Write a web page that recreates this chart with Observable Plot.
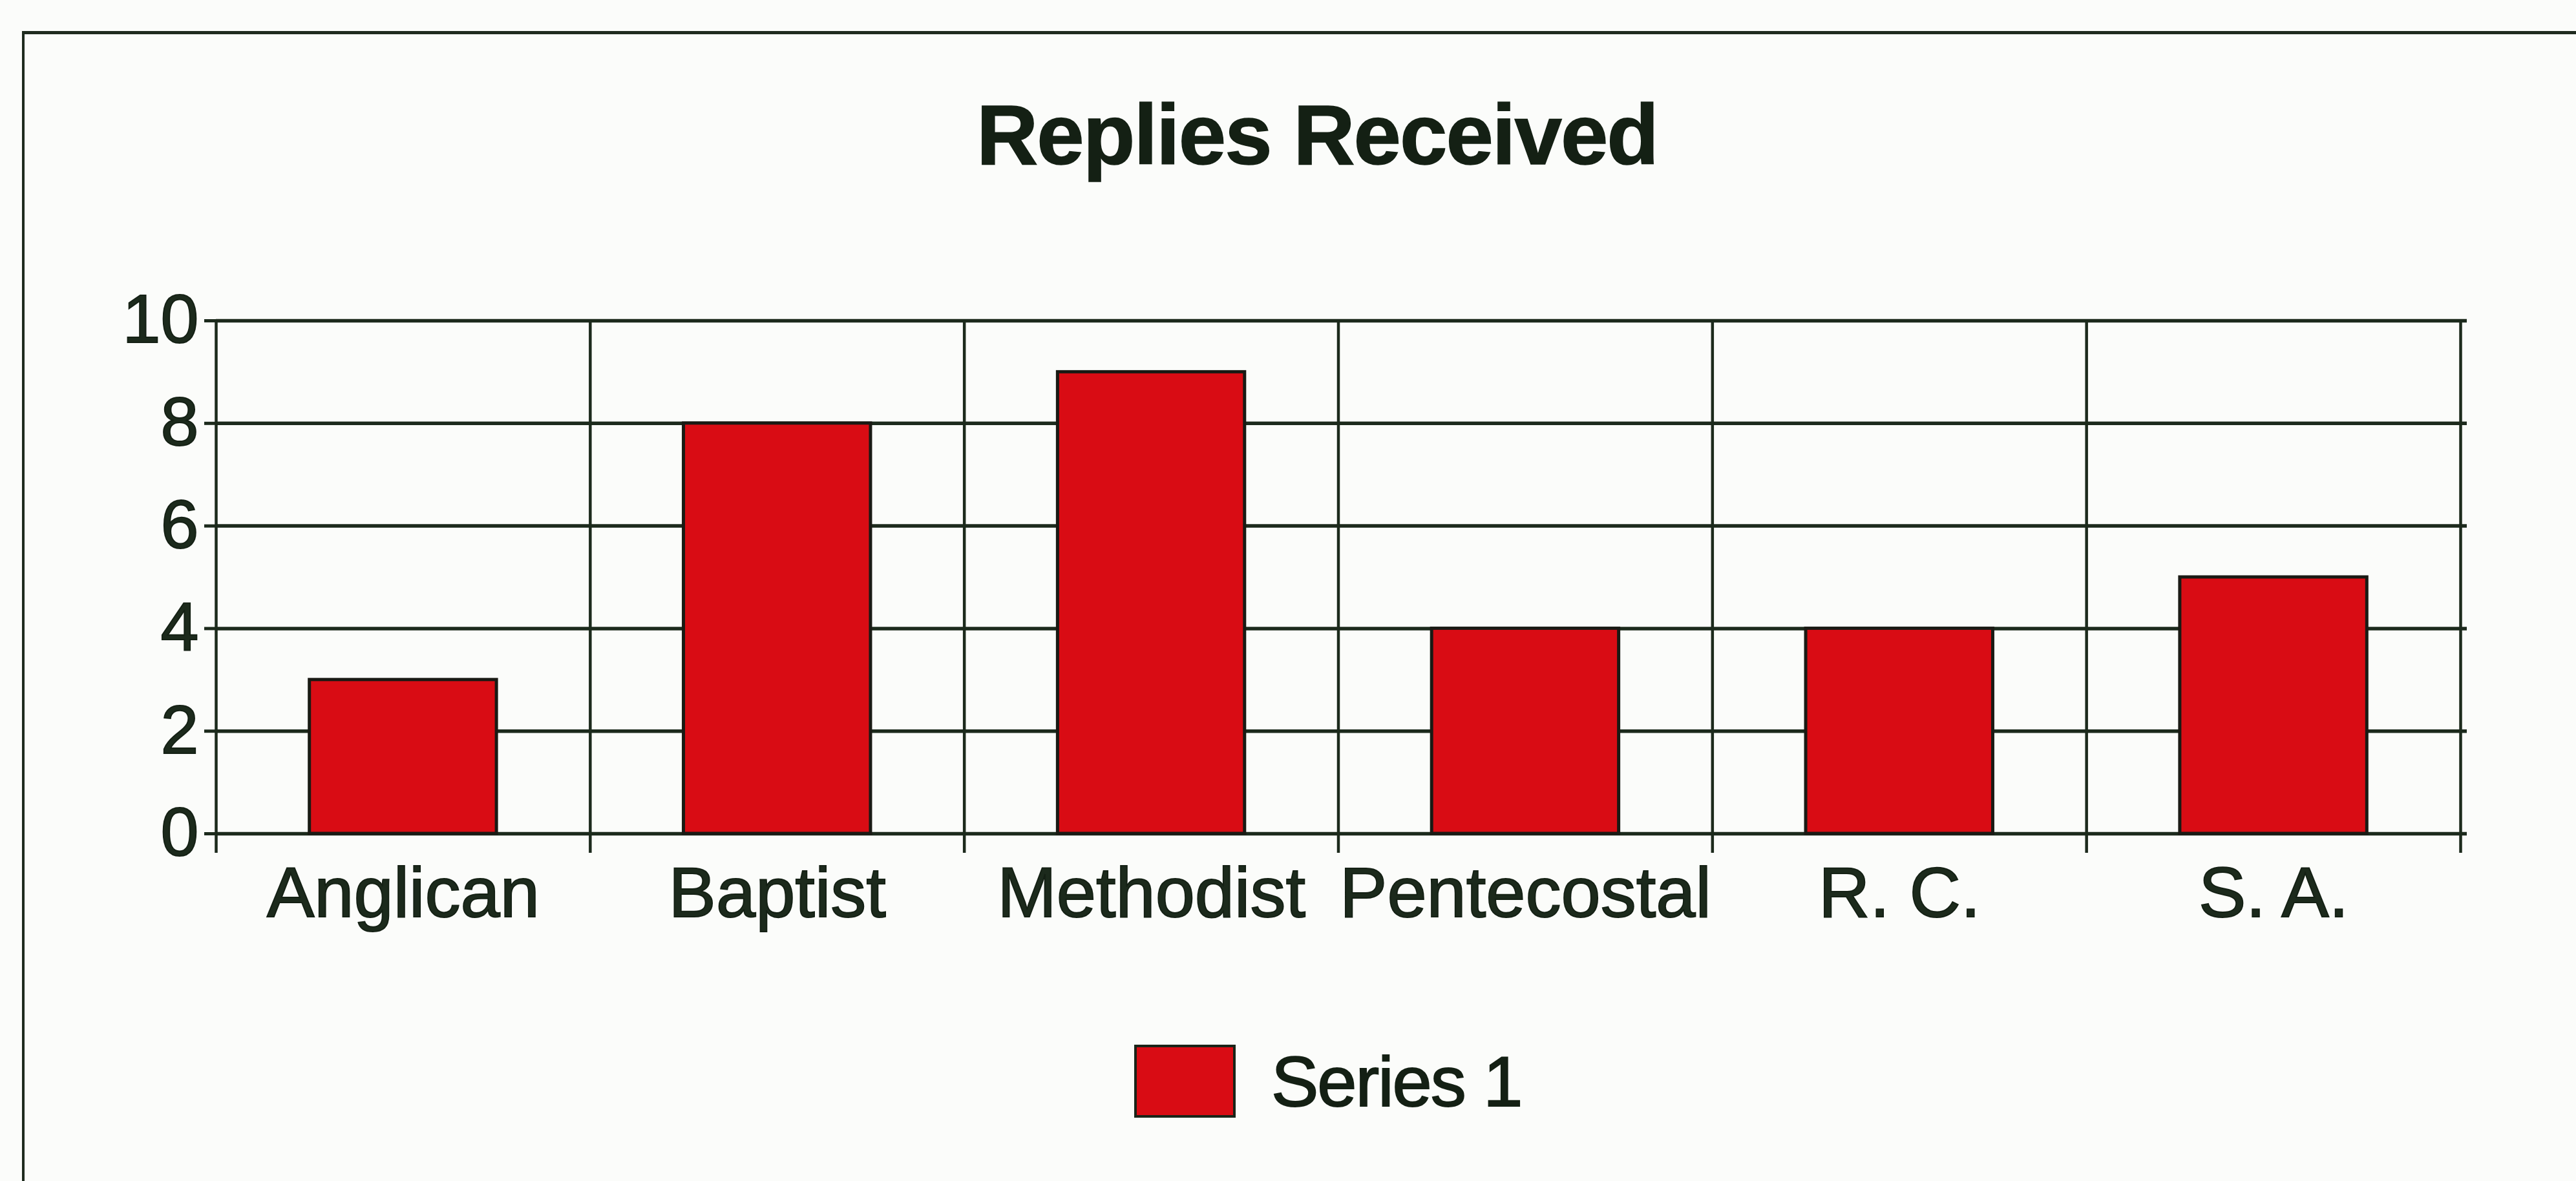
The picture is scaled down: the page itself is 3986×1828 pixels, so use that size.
<!DOCTYPE html>
<html>
<head>
<meta charset="utf-8">
<script src="https://cdn.jsdelivr.net/npm/d3@7"></script>
<script src="https://cdn.jsdelivr.net/npm/@observablehq/plot@0.6"></script>
<style>
  html, body { margin: 0; padding: 0; background: #fbfcfa; }
  body { width: 3986px; height: 1828px; overflow: hidden; position: relative;
         font-family: "Liberation Sans", Arial, Helvetica, sans-serif; color: #142014; }
  #frame { position: absolute; left: 34px; top: 48px; width: 4100px; height: 1900px;
           border-left: 4px solid #1f2b1f; border-top: 5px solid #1f2b1f; }
  #title { position: absolute; left: 0; top: 143px; width: 4076px; text-align: center;
           font-weight: bold; font-size: 132px; line-height: 132px; letter-spacing: -2px;
           -webkit-text-stroke: 1.5px #142014; }
  #chart { position: absolute; left: 0; top: 400px; }
  #chart svg text { stroke: #142014; stroke-width: 2px; }
  #legend { position: absolute; left: 1755px; top: 1600px; display: flex; align-items: center; height: 147px; }
  #legend .sw { width: 149px; height: 105px; border: 4px solid #1a2418; background: #d90c14; }
  #legend .lb { margin-left: 55px; font-size: 110px; line-height: 110px; letter-spacing: -2px;
                -webkit-text-stroke: 2px #142014; }
</style>
</head>
<body>
<div id="frame"></div>
<div id="title"></div>
<div id="chart"></div>
<div id="legend"><div class="sw"></div><div class="lb"></div></div>
<script>
const chartTitle = "Replies Received";
const seriesName = "Series 1";
const categories = ["Anglican", "Baptist", "Methodist", "Pentecostal", "R. C.", "S. A."];
const replies = [3, 8, 9, 4, 4, 5];
const yTicks = [0, 2, 4, 6, 8, 10];

const data = categories.map((c, i) => ({category: c, i, value: replies[i]}));
const indices = data.map(d => d.i);
const boundaries = [-0.5, ...indices.map(i => i + 0.5)];

const ink = "#1c2a1c";
const red = "#d90c14";

document.getElementById("title").textContent = chartTitle;
document.querySelector("#legend .lb").textContent = seriesName;

const chart = Plot.plot({
  width: 3986,
  height: 1130,
  marginLeft: 334,
  marginRight: 179,
  marginTop: 96,
  marginBottom: 240,
  style: {background: "transparent", color: ink, fontFamily: "'Liberation Sans', Arial, Helvetica, sans-serif", overflow: "visible"},
  x: {domain: [-0.5, 5.5]},
  y: {domain: [0, 10]},
  marks: [
    Plot.ruleY(yTicks, {x1: -0.5, x2: 5.5, stroke: ink, strokeWidth: 5.5, insetRight: -10}),
    Plot.ruleX(boundaries, {y1: 10, y2: 0, stroke: ink, strokeWidth: 4.5, insetBottom: -30}),
    Plot.rectY(data, {x1: d => d.i - 0.25, x2: d => d.i + 0.25, y: "value", fill: red, stroke: "#1a1a14", strokeWidth: 5}),
    Plot.axisY({ticks: yTicks, tickSize: 18, tickPadding: 9, stroke: ink, strokeWidth: 5, fontSize: 106, label: null, tickFormat: d => String(d)}),
    Plot.axisX({ticks: indices, tickFormat: i => categories[i], tickSize: 0, tickPadding: 50, fontSize: 110, label: null})
  ]
});
document.getElementById("chart").appendChild(chart);
</script>
</body>
</html>
